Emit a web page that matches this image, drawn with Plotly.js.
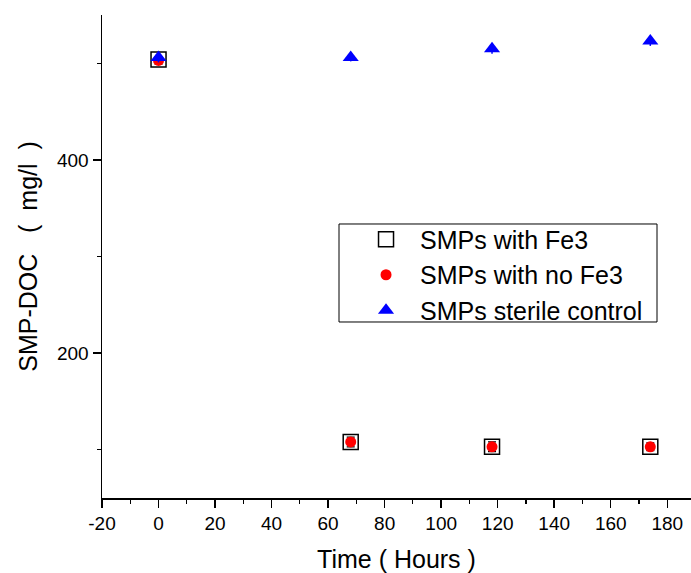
<!DOCTYPE html>
<html>
<head>
<meta charset="utf-8">
<script src="https://cdn.plot.ly/plotly-3.0.1.min.js"></script>
<style>html,body{margin:0;padding:0;background:#fff;}#chart{width:691px;height:573px;}</style>
</head>
<body>
<div id="chart"></div>
<script>
const timeHours = [0, 68, 118, 174];
const withFe3 = [504, 108, 103, 103];
const withFe3Err = [4, 5, 4, 4];
const noFe3 = [503, 108, 103, 103];
const noFe3Err = [4, 5, 5, 4];
const sterile = [506, 506, 515, 523];
const sterileErr = [5, 4, 5, 5];
const seriesNames = ["SMPs with Fe3", "SMPs with no Fe3", "SMPs sterile control"];
const xTickVals = [-20, 0, 20, 40, 60, 80, 100, 120, 140, 160, 180];
const xTickText = ["-20", "0", "20", "40", "60", "80", "100", "120", "140", "160", "180"];
const yTickVals = [200, 400];
const yMinorVals = [100, 300, 500];

const traces = [
  {x: timeHours, y: withFe3, name: seriesNames[0], type: 'scatter', mode: 'markers',
   marker: {symbol: 'square-open', size: 15, color: '#000', line: {width: 1.5, color: '#000'}},
   error_y: {type: 'data', array: withFe3Err, color: '#000', thickness: 1.2, width: 0}},
  {x: timeHours, y: noFe3, name: seriesNames[1], type: 'scatter', mode: 'markers',
   marker: {symbol: 'circle', size: 11, color: '#ff0000'},
   error_y: {type: 'data', array: noFe3Err, color: '#000', thickness: 1.2, width: 4}},
  {x: timeHours, y: sterile, name: seriesNames[2], type: 'scatter', mode: 'markers',
   marker: {symbol: 'triangle-up', size: 14, color: '#0000ff'},
   error_y: {type: 'data', array: sterileErr, color: '#0000ff', thickness: 1.5, width: 0}}
];

const NB = '\u00A0';
const yTitle = 'SMP-DOC' + NB + NB + NB + '(' + NB + NB + 'mg/l' + NB + NB + ')';

const layout = {
  width: 691, height: 573,
  margin: {l: 102, r: 0, t: 15, b: 75},
  paper_bgcolor: '#fff', plot_bgcolor: '#fff',
  font: {family: 'Liberation Sans, Arial, sans-serif', color: '#000', size: 20},
  showlegend: true,
  legend: {x: 0.4245, y: 0.4617, xanchor: 'left', yanchor: 'middle',
           borderwidth: 0, bgcolor: 'rgba(0,0,0,0)',
           font: {size: 25, family: 'Liberation Sans, Arial, sans-serif'},
           itemwidth: 58, tracegroupgap: 0},
  shapes: [{type: 'rect', xref: 'paper', yref: 'paper',
            x0: 0.4024, x1: 0.9423, y0: 0.3644, y1: 0.5673,
            line: {color: '#000', width: 1}, fillcolor: 'rgba(0,0,0,0)', layer: 'below'}],
  xaxis: {
    range: [-20, 188.4], tickvals: xTickVals, ticktext: xTickText,
    showgrid: false, zeroline: false, showline: true, linecolor: '#000', linewidth: 1.5,
    ticks: 'outside', ticklen: 8, tickwidth: 1.5, tickcolor: '#000',
    minor: {dtick: 10, tick0: 0, ticks: 'outside', ticklen: 4, tickwidth: 1.2, tickcolor: '#000', showgrid: false},
    tickfont: {size: 19},
    title: {text: 'Time ( Hours )', font: {size: 25}, standoff: 18}
  },
  yaxis: {
    range: [50, 550], tickvals: yTickVals,
    showgrid: false, zeroline: false, showline: true, linecolor: '#000', linewidth: 1.5,
    ticks: 'outside', ticklen: 8, tickwidth: 1.5, tickcolor: '#000',
    minor: {tickvals: yMinorVals, ticks: 'outside', ticklen: 4, tickwidth: 1.2, tickcolor: '#000', showgrid: false},
    tickfont: {size: 19},
    title: {text: yTitle, font: {size: 25}, standoff: 12}
  }
};

Plotly.newPlot('chart', traces, layout, {displayModeBar: false, staticPlot: true});
</script>
</body>
</html>
